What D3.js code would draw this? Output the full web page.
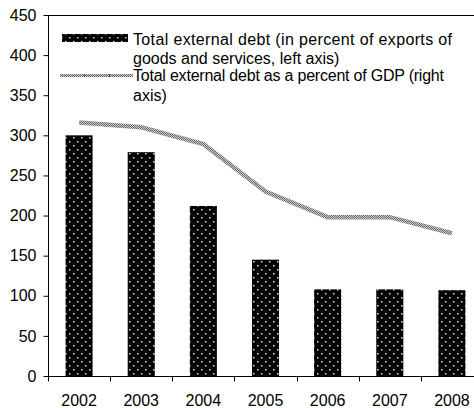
<!DOCTYPE html>
<html><head><meta charset="utf-8">
<script src="https://cdn.jsdelivr.net/npm/d3@7"></script>
<style>
html,body{margin:0;padding:0;background:#fff;}
svg{display:block;}
text{font-family:"Liberation Sans",Arial,sans-serif;fill:#000;}
</style></head>
<body>
<script>
const years = ["2002","2003","2004","2005","2006","2007","2008"];
const debtExports = [300, 279, 212, 145, 108, 108, 107];
const debtGDP = [316, 310, 289, 230, 198, 198, 178];
const yTicks = [0, 50, 100, 150, 200, 250, 300, 350, 400, 450];
const legendLines1 = ["Total external debt (in percent of exports of", "goods and services, left axis)"];
const legendLines2 = ["Total external debt as a percent of GDP (right", "axis)"];

const W = 474, H = 408;
const svg = d3.select("body").append("svg").attr("width", W).attr("height", H);
const defs = svg.append("defs");

const dots = defs.append("pattern").attr("id","dots").attr("patternUnits","userSpaceOnUse")
  .attr("width",8).attr("height",8);
dots.append("rect").attr("width",8).attr("height",8).attr("fill","#000");
dots.append("rect").attr("x",1).attr("y",1).attr("width",1.5).attr("height",1.5).attr("fill","#ddd");
dots.append("rect").attr("x",5).attr("y",5).attr("width",1.5).attr("height",1.5).attr("fill","#ddd");

const chk = defs.append("pattern").attr("id","chk").attr("patternUnits","userSpaceOnUse")
  .attr("width",2).attr("height",2);
chk.append("rect").attr("width",2).attr("height",2).attr("fill","#d0d0d0");
chk.append("rect").attr("width",1).attr("height",1).attr("fill","#666");
chk.append("rect").attr("x",1).attr("y",1).attr("width",1).attr("height",1).attr("fill","#666");

const mLeft = 48, mTop = 15, mBottom = 376, mRight = 483;
const x = d3.scaleBand().domain(years).range([mLeft, mRight]).padding(0);
const y = d3.scaleLinear().domain([0, 450]).range([mBottom, mTop]);

// top frame
svg.append("line").attr("x1", mLeft).attr("x2", mRight).attr("y1", mTop+0.5).attr("y2", mTop+0.5)
  .attr("stroke","#000").attr("stroke-width",1);

// bars
const bw = x.bandwidth() * 0.435;
svg.append("g").selectAll("rect").data(years).join("rect")
  .attr("x", d => x(d) + x.bandwidth()/2 - bw/2)
  .attr("width", bw)
  .attr("y", (d,i) => y(debtExports[i]))
  .attr("height", (d,i) => y(0) - y(debtExports[i]))
  .attr("fill","url(#dots)");

// line
const line = d3.line().x((d,i) => x(years[i]) + x.bandwidth()/2).y(d => y(d));
svg.append("path").datum(debtGDP).attr("d", line)
  .attr("fill","none").attr("stroke","url(#chk)").attr("stroke-width",4.5);

// y axis
const yAxis = svg.append("g").attr("transform",`translate(${mLeft+0.5},0)`)
  .call(d3.axisLeft(y).tickValues(yTicks).tickSize(5).tickPadding(7).tickFormat(d3.format("d")));
yAxis.select(".domain").attr("d", `M0,${mTop}V${mBottom}`);
yAxis.selectAll("text").style("font-size","16px").style("font-family","'Liberation Sans',Arial,sans-serif");

// x axis
const xAxis = svg.append("g").attr("transform",`translate(0,${mBottom+0.5})`);
xAxis.append("line").attr("x1",mLeft).attr("x2",mRight).attr("stroke","#000");
const bounds = years.map(d => x(d)).concat([mRight]);
xAxis.selectAll("line.tk").data(bounds).join("line").attr("class","tk")
  .attr("x1", d => Math.round(d)+0.5).attr("x2", d => Math.round(d)+0.5)
  .attr("y1",0).attr("y2",5).attr("stroke","#000");
xAxis.selectAll("text").data(years).join("text")
  .attr("x", d => x(d) + x.bandwidth()/2).attr("y", 29.5)
  .attr("text-anchor","middle").style("font-size","16px").text(d => d);

// legend
const lg = svg.append("g");
lg.append("rect").attr("x",62).attr("y",34).attr("width",66).attr("height",8).attr("fill","url(#dots)");
lg.append("line").attr("x1",60).attr("x2",133).attr("y1",75.5).attr("y2",75.5)
  .attr("stroke","url(#chk)").attr("stroke-width",3);
[84, 109].forEach(px => lg.append("line").attr("x1",px+0.5).attr("x2",px+0.5).attr("y1",74).attr("y2",77).attr("stroke","#444"));
const lt = lg.append("g").style("font-size","16px");
const fitW = [[319, null], [311, null]];
legendLines1.forEach((t,i) => {
  const el = lt.append("text").attr("x",133).attr("y",45 + i*19).text(t);
  if (fitW[0][i]) el.attr("textLength", fitW[0][i]).attr("lengthAdjust","spacing");
});
legendLines2.forEach((t,i) => {
  const el = lt.append("text").attr("x",133).attr("y",81 + i*20).text(t);
  if (fitW[1][i]) el.attr("textLength", fitW[1][i]).attr("lengthAdjust","spacing");
});
</script>
</body></html>
